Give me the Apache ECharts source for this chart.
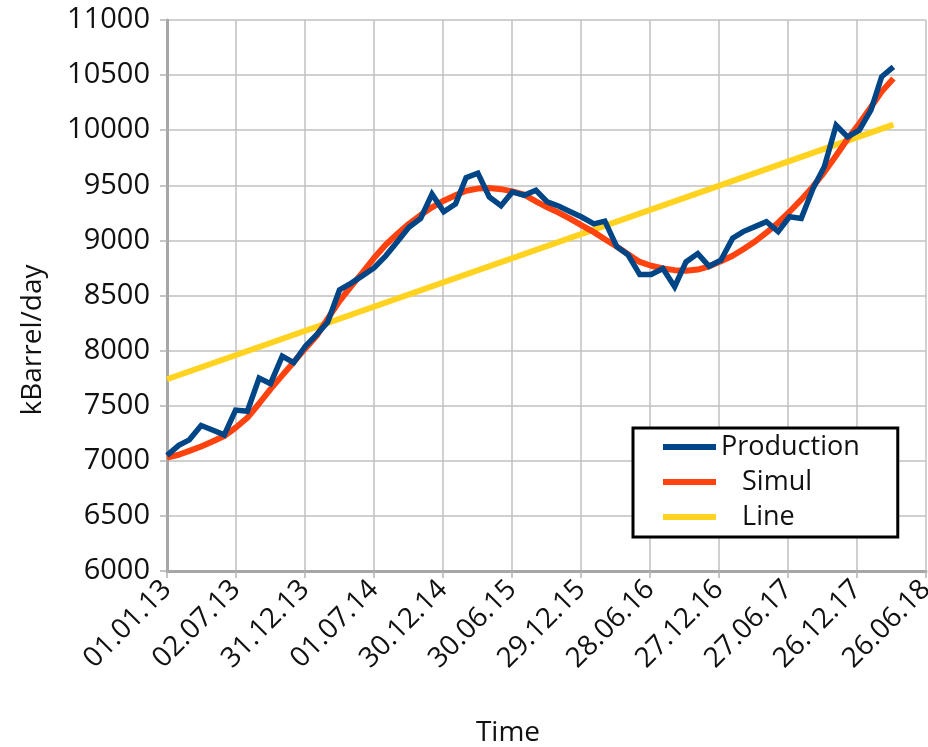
<!DOCTYPE html>
<html>
<head>
<meta charset="utf-8">
<script src="https://cdn.jsdelivr.net/npm/echarts@6/dist/echarts.min.js"></script>
<style>
  html, body { margin: 0; padding: 0; background: #ffffff; overflow: hidden; }
  #chart { width: 928px; height: 747px; }
</style>
</head>
<body>
<div id="chart"></div>
<script>
// Monthly oil production (kBarrel/day), simulated fit and linear trend
const startYear = 2013;
const production = [7050, 7140, 7190, 7320, 7280, 7235, 7460, 7450, 7750, 7700,
  7950, 7890, 8040, 8150, 8260, 8550, 8610, 8680, 8750, 8860,
  8990, 9120, 9200, 9420, 9260, 9330, 9570, 9610, 9395, 9315,
  9440, 9410, 9455, 9350, 9310, 9260, 9210, 9150, 9175, 8945,
  8870, 8690, 8690, 8745, 8580, 8805, 8880, 8765, 8820, 9020,
  9080, 9125, 9170, 9080, 9215, 9200, 9470, 9670, 10045, 9940,
  10000, 10185, 10485, 10575];
const simul = [7030, 7055, 7090, 7130, 7175, 7225, 7300, 7390, 7520, 7650,
  7775, 7895, 8020, 8140, 8290, 8450, 8580, 8710, 8840, 8960,
  9060, 9150, 9230, 9300, 9360, 9410, 9450, 9470, 9475, 9465,
  9445, 9415, 9355, 9300, 9250, 9195, 9135, 9075, 9010, 8945,
  8875, 8805, 8770, 8745, 8730, 8725, 8735, 8765, 8810, 8860,
  8920, 8990, 9070, 9160, 9260, 9370, 9490, 9620, 9770, 9920,
  10060, 10210, 10350, 10470];
const trendStart = 7740;
const trendEnd = 10050;

const tickLabels = ['01.01.13', '02.07.13', '31.12.13', '01.07.14', '30.12.14', '30.06.15',
  '29.12.15', '28.06.16', '27.12.16', '27.06.17', '26.12.17', '26.06.18'];
const tickStepDays = 182;
const seriesNames = ['Production', 'Simul', 'Line'];

// day offset of the first of each month from 01.01.2013
const DAY = 86400000;
const t0 = Date.UTC(startYear, 0, 1);
const monthDays = production.map((_, i) => (Date.UTC(startYear, i, 1) - t0) / DAY);

const prodData = production.map((v, i) => [monthDays[i], v]);
const simulData = simul.map((v, i) => [monthDays[i], v]);
const lineData = [[monthDays[0], trendStart], [monthDays[monthDays.length - 1], trendEnd]];

const font = '"Open Sans", "Liberation Sans", sans-serif';
const chart = echarts.init(document.getElementById('chart'));
chart.setOption({
  animation: false,
  backgroundColor: '#ffffff',
  grid: { left: 167, right: 2, top: 20, bottom: 176, containLabel: false, outerBoundsMode: 'none' },
  xAxis: {
    type: 'value',
    min: 0,
    max: tickStepDays * (tickLabels.length - 1),
    interval: tickStepDays,
    axisLine: { show: true, onZero: false, lineStyle: { color: '#a6a6a6', width: 3 } },
    axisTick: { show: true, length: 7, lineStyle: { color: '#b3b3b3', width: 1.5 } },
    splitLine: { show: true, lineStyle: { color: '#c0c0c0', width: 1.5 } },
    axisLabel: {
      rotate: 45, margin: 14, fontSize: 28, color: '#111', fontFamily: font,
      formatter: v => tickLabels[Math.round(v / tickStepDays)]
    }
  },
  yAxis: {
    type: 'value',
    min: 6000, max: 11000, interval: 500,
    axisLine: { show: true, lineStyle: { color: '#a6a6a6', width: 3 } },
    axisTick: { show: true, length: 7, lineStyle: { color: '#b3b3b3', width: 1.5 } },
    splitLine: { show: true, lineStyle: { color: '#c0c0c0', width: 1.5 } },
    axisLabel: { margin: 17, fontSize: 29, color: '#111', fontFamily: font,
                 formatter: v => String(v) }
  },
  legend: {
    left: 633, top: 428,
    orient: 'vertical',
    padding: [5, 38, 6, 30],
    itemGap: 7,
    itemWidth: 53, itemHeight: 6,
    icon: 'rect',
    borderColor: '#000', borderWidth: 3,
    backgroundColor: '#fff',
    textStyle: { fontSize: 27, lineHeight: 28, color: '#111', fontFamily: font },
    formatter: n => (n === seriesNames[0] ? n : '   ' + n),
    data: seriesNames
  },
  graphic: [
    { type: 'text', x: 33, y: 340, rotation: Math.PI / 2,
      style: { text: 'kBarrel/day', fontSize: 28, fill: '#111', fontFamily: font,
               align: 'center', verticalAlign: 'middle' } },
    { type: 'text', x: 508, y: 733,
      style: { text: 'Time', fontSize: 28, fill: '#111', fontFamily: font,
               align: 'center', verticalAlign: 'middle' } }
  ],
  series: [
    { name: seriesNames[2], type: 'line', data: lineData, showSymbol: false, z: 2,
      lineStyle: { color: '#ffd320', width: 6 }, itemStyle: { color: '#ffd320' } },
    { name: seriesNames[1], type: 'line', data: simulData, showSymbol: false, z: 3,
      lineStyle: { color: '#ff420e', width: 6 }, itemStyle: { color: '#ff420e' } },
    { name: seriesNames[0], type: 'line', data: prodData, showSymbol: false, z: 4,
      lineStyle: { color: '#004586', width: 5.5, join: 'miter' }, itemStyle: { color: '#004586' } }
  ]
});
</script>
</body>
</html>
